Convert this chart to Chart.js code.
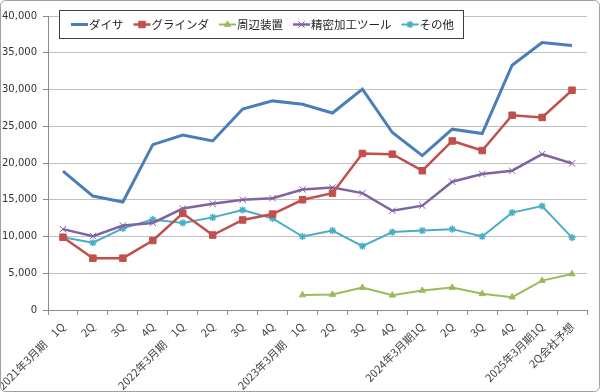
<!DOCTYPE html>
<html>
<head>
<meta charset="utf-8">
<script src="https://cdn.jsdelivr.net/npm/chart.js@4/dist/chart.umd.min.js"></script>
<style>
  html, body { margin: 0; padding: 0; background: #fff; }
  #wrap { width: 600px; height: 392px; position: relative; }
</style>
</head>
<body>
<div id="wrap"><canvas id="chart" width="600" height="392"></canvas></div>
<script>
const labels = [
  "2021年3月期　1Q", "2Q", "3Q", "4Q",
  "2022年3月期　1Q", "2Q", "3Q", "4Q",
  "2023年3月期　1Q", "2Q", "3Q", "4Q",
  "2024年3月期1Q", "2Q", "3Q", "4Q",
  "2025年3月期1Q", "2Q会社予想"
];
const dicer = [18900, 15500, 14700, 22500, 23800, 23000, 27350, 28450, 28000, 26800, 30050, 24150, 21000, 24600, 24000, 33300, 36400, 36000];
const grinder = [9900, 7050, 7050, 9450, 13150, 10200, 12250, 13050, 15000, 15900, 21300, 21200, 18950, 23000, 21700, 26500, 26200, 29900];
const peripheral = [null, null, null, null, null, null, null, null, 2050, 2100, 3050, 2000, 2650, 3050, 2200, 1750, 4000, 4900];
const precision = [11000, 10050, 11500, 11850, 13800, 14450, 15000, 15200, 16400, 16650, 15900, 13500, 14200, 17450, 18500, 18950, 21200, 19950];
const others = [9900, 9150, 11100, 12300, 11850, 12600, 13600, 12450, 10000, 10800, 8700, 10600, 10800, 11000, 10000, 13250, 14150, 9850];

const jpFont = "'Noto Sans CJK JP', 'Noto Sans', sans-serif";

// legend drawn inside the plot, like the original
const boxLegend = {
  id: "boxLegend",
  afterDraw(chart) {
    const ctx = chart.ctx;
    ctx.save();
    ctx.fillStyle = "#fff";
    ctx.fillRect(59, 10, 404, 28);
    ctx.strokeStyle = "#404040";
    ctx.lineWidth = 1;
    ctx.strokeRect(59.5, 10.5, 404, 28);
    ctx.font = "11.5px " + jpFont;
    ctx.textBaseline = "middle";
    let x = 71;
    const y = 24.5;
    chart.data.datasets.forEach(ds => {
      ctx.strokeStyle = ds.borderColor;
      ctx.lineWidth = ds.borderWidth;
      ctx.beginPath();
      ctx.moveTo(x, y);
      ctx.lineTo(x + 17, y);
      ctx.stroke();
      if (ds.pointRadius > 0) {
        ctx.fillStyle = ds.pointBackgroundColor;
        ctx.strokeStyle = ds.pointBorderColor;
        ctx.lineWidth = ds.pointBorderWidth;
        Chart.helpers.drawPoint(ctx, {
          pointStyle: ds.pointStyle, radius: ds.pointRadius,
          rotation: 0, borderWidth: ds.pointBorderWidth
        }, x + 8.5, y);
      }
      ctx.fillStyle = "#222";
      ctx.fillText(ds.label, x + 18, y);
      x += 18 + ctx.measureText(ds.label).width + 10;
    });
    ctx.restore();
  }
};

const frame = {
  id: "frame",
  beforeDraw(chart) {
    const ctx = chart.ctx;
    ctx.save();
    ctx.fillStyle = "#fff";
    ctx.fillRect(0, 0, chart.width, chart.height);
    ctx.restore();
  },
  afterDraw(chart) {
    const ctx = chart.ctx;
    ctx.save();
    ctx.strokeStyle = "#a0a0a0";
    ctx.lineWidth = 1;
    ctx.beginPath();
    ctx.roundRect(0.5, 0.5, chart.width - 1, chart.height - 1, 5);
    ctx.stroke();
    ctx.restore();
  }
};

function series(label, data, color, width, style, radius, bw) {
  return {
    label: label,
    data: data,
    borderColor: color,
    backgroundColor: color,
    borderWidth: width,
    pointStyle: style,
    pointRadius: radius,
    pointBackgroundColor: color,
    pointBorderColor: color,
    pointBorderWidth: bw,
    pointHoverRadius: radius,
    tension: 0,
    spanGaps: false
  };
}

new Chart(document.getElementById("chart"), {
  type: "line",
  data: {
    labels: labels,
    datasets: [
      series("ダイサ", dicer, "#4a7ebb", 3, false, 0, 0),
      series("グラインダ", grinder, "#c0504d", 2.5, "rect", 4.6, 1),
      series("周辺装置", peripheral, "#9bbb59", 2, "triangle", 3.6, 1),
      series("精密加工ツール", precision, "#8064a2", 2.5, "crossRot", 4.5, 1),
      series("その他", others, "#4bacc6", 2, "star", 3.6, 1.5)
    ]
  },
  options: {
    responsive: false,
    animation: false,
    layout: { padding: { top: 16, right: 13, left: 0, bottom: 0 } },
    plugins: {
      legend: { display: false },
      tooltip: { enabled: false }
    },
    scales: {
      x: {
        offset: true,
        grid: {
          offset: true,
          drawOnChartArea: false,
          drawTicks: true,
          tickLength: 5,
          color: "#8c8c8c"
        },
        border: { color: "#8c8c8c" },
        ticks: {
          autoSkip: false,
          maxRotation: 45,
          minRotation: 45,
          padding: 5,
          color: "#444",
          font: { family: jpFont, size: 11 }
        },
        afterFit(scale) {
          scale.height = 82;
          scale.paddingLeft = 0;
          scale.paddingRight = 0;
        }
      },
      y: {
        min: 0,
        max: 40000,
        ticks: {
          stepSize: 5000,
          padding: 6,
          color: "#333",
          font: { family: "'DejaVu Sans', sans-serif", size: 10 },
          callback: v => v.toLocaleString("en-US")
        },
        grid: {
          color: "#c0c0c0",
          tickColor: "#8c8c8c",
          tickLength: 5
        },
        border: { color: "#8c8c8c" },
        afterFit(scale) { scale.width = 48; }
      }
    }
  },
  plugins: [frame, boxLegend]
});
</script>
</body>
</html>
